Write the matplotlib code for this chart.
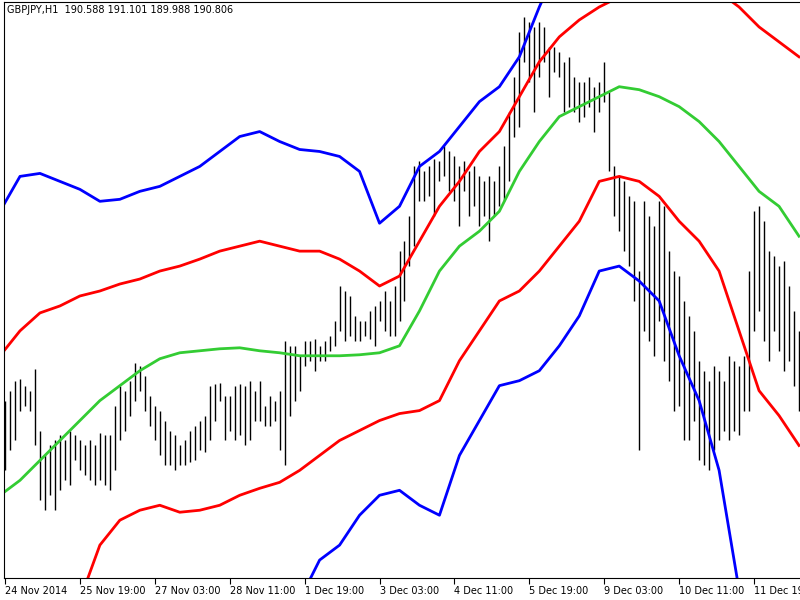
import numpy as np
import matplotlib.pyplot as plt

# GBPJPY H1 bars (highs / lows), one entry per bar
highs = [190.20,190.40,190.60,190.64,190.50,190.40,190.84,189.60,189.10,189.30,
         189.40,189.50,189.40,189.60,189.50,189.40,189.30,189.40,189.30,189.56,
         189.50,189.50,190.10,190.50,190.40,190.60,190.96,190.90,190.70,190.30,
         190.10,190.00,189.80,189.60,189.50,189.30,189.40,189.60,189.70,189.80,
         189.90,190.50,190.54,190.56,190.30,190.30,190.50,190.54,190.50,190.60,
         190.40,190.60,190.10,190.30,190.20,190.40,191.40,191.30,191.30,191.10,
         191.40,191.40,191.44,191.30,191.40,191.50,191.80,192.50,192.40,192.30,
         191.90,191.80,191.80,192.00,192.10,192.20,192.40,192.20,192.50,193.20,
         193.40,193.90,194.90,195.00,194.80,194.90,195.04,195.00,195.30,195.20,
         195.10,194.90,195.00,194.80,194.90,194.70,194.60,194.70,194.60,194.90,
         195.30,196.00,196.70,197.60,197.90,197.80,197.70,197.80,197.70,197.30,
         197.30,197.20,197.00,197.10,196.70,196.60,196.60,196.70,196.50,196.60,
         197.00,196.40,194.90,194.70,194.60,194.30,194.20,192.80,194.20,193.90,
         193.70,194.20,194.10,193.20,192.80,192.70,192.20,191.90,191.60,191.00,
         190.80,190.60,190.90,190.80,190.60,191.10,191.00,190.90,191.10,192.80,
         194.00,194.10,193.80,193.20,193.10,192.90,193.00,192.50,192.00,191.60]
lows = [188.80,189.20,189.40,190.00,190.10,190.00,189.30,188.20,188.00,188.30,
        188.00,188.40,188.60,188.50,189.00,188.80,188.70,188.60,188.50,188.60,
        188.50,188.40,188.80,189.40,189.60,189.90,190.20,190.40,190.00,189.70,
        189.40,189.10,188.90,188.90,188.80,188.90,188.90,188.96,189.00,189.20,
        189.16,189.40,189.80,190.20,189.40,189.60,189.40,189.50,189.30,189.40,
        189.80,189.80,189.70,189.70,189.80,189.20,188.90,189.90,190.20,190.40,
        190.90,191.00,190.80,191.00,191.00,191.20,191.30,191.60,191.40,191.50,
        191.40,191.40,191.50,191.44,191.30,191.80,191.60,191.50,191.50,191.80,
        192.20,192.90,193.30,194.20,194.20,194.30,193.90,194.60,194.70,194.40,
        194.20,193.70,194.40,193.90,194.10,193.70,193.90,193.40,193.90,194.10,
        194.20,194.60,195.50,195.70,197.00,196.60,196.00,196.70,197.00,196.30,
        196.80,196.70,196.00,196.10,196.00,195.80,195.90,196.10,195.60,196.00,
        196.20,194.80,193.90,193.60,193.20,192.90,192.20,189.20,191.60,191.40,
        191.10,191.80,191.00,190.60,190.00,190.10,189.40,189.40,189.80,189.00,
        188.90,188.80,189.20,189.40,189.60,189.40,189.60,189.50,190.00,190.00,
        191.60,192.00,191.40,191.00,191.60,191.20,190.80,191.00,190.50,190.00]

nan = np.nan
# band values, one every 4 bars
mid_band = [188.30,188.60,189.00,189.40,189.80,190.20,190.50,190.80,191.04,191.16,
            191.20,191.24,191.26,191.20,191.16,191.10,191.10,191.10,191.12,191.16,
            191.30,192.00,192.80,193.30,193.60,194.00,194.80,195.40,195.90,196.10,
            196.30,196.50,196.44,196.30,196.10,195.80,195.40,194.90,194.40,194.10,193.50]
upper1 = [191.10,191.60,191.96,192.10,192.30,192.40,192.54,192.64,192.80,192.90,
          193.04,193.20,193.30,193.40,193.30,193.20,193.20,193.04,192.80,192.50,
          192.70,193.40,194.10,194.60,195.20,195.60,196.30,197.00,197.50,197.84,
          198.10,198.30,198.60,198.70,198.70,198.60,198.40,198.10,197.70,197.40,197.10]
upper2 = [194.00,194.70,194.76,194.60,194.44,194.20,194.24,194.40,194.50,194.70,
          194.90,195.20,195.50,195.60,195.40,195.24,195.20,195.10,194.80,193.76,
          194.10,194.90,195.20,195.70,196.20,196.50,197.10,198.10,199.00,199.60,
          200.00,200.30,200.50,200.60,200.60,200.50,200.40,200.20,200.00,199.80,199.60]
lower1 = [nan,nan,nan,nan,186.20,187.30,187.80,188.00,188.10,187.96,
          188.00,188.10,188.30,188.44,188.56,188.80,189.10,189.40,189.60,189.80,
          189.94,190.00,190.20,191.00,191.60,192.20,192.40,192.80,193.30,193.80,
          194.60,194.70,194.60,194.30,193.80,193.40,192.80,191.60,190.40,189.90,189.30]
lower2 = [nan]*15 + [186.20,187.00,187.30,187.90,188.30,188.40,188.10,187.90,189.10,
          189.80,190.50,190.60,190.80,191.30,191.90,192.80,192.90,192.60,192.20,
          191.10,190.20,188.80,186.40] + [nan]*3

tick_pos = [0, 15, 30, 45, 60, 75, 90, 105, 120, 135, 150]
tick_labels = ['24 Nov 2014', '25 Nov 19:00', '27 Nov 03:00', '28 Nov 11:00',
               '1 Dec 19:00', '3 Dec 03:00', '4 Dec 11:00', '5 Dec 19:00',
               '9 Dec 03:00', '10 Dec 11:00', '11 Dec 19:00']

fig = plt.figure(figsize=(8, 6), dpi=100)
ax = fig.add_axes([4/800, 22/600, 796/800, 576/600])

bx = np.arange(len(highs))
ax.vlines(bx, lows, highs, color='black', lw=1)

band_x = np.arange(len(mid_band)) * 4 - 1
ax.plot(band_x, upper2, color='#0000ff', lw=2)
ax.plot(band_x, lower2, color='#0000ff', lw=2)
ax.plot(band_x, upper1, color='#ff0000', lw=2)
ax.plot(band_x, lower1, color='#ff0000', lw=2)
ax.plot(band_x, mid_band, color='#33cc33', lw=2)

ax.set_xlim(-0.2, 159.2)
ax.set_ylim(186.64, 198.2)
ax.set_yticks([])
ax.set_xticks(tick_pos)
ax.set_xticklabels(tick_labels, ha='left', fontsize=7)
ax.tick_params(axis='x', length=4, pad=2)
ax.spines['right'].set_visible(False)
ax.text(0.004, 0.995, 'GBPJPY,H1  190.588 191.101 189.988 190.806', transform=ax.transAxes,
        fontsize=7, va='top', ha='left')

fig.savefig('out.png')
